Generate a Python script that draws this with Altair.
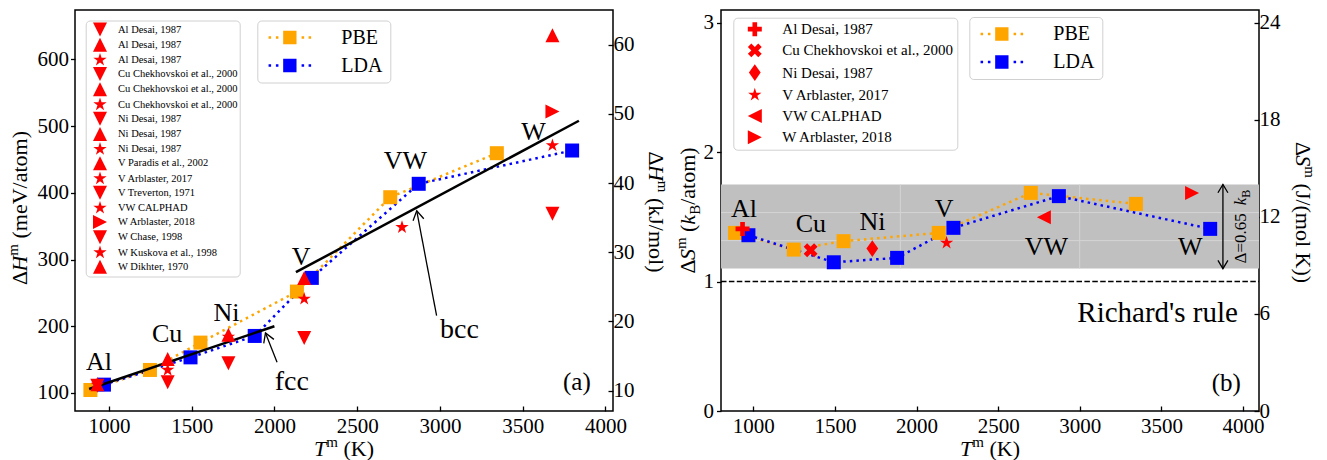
import math
import altair as alt
import pandas as pd

FONT = "Liberation Serif"
FONT_LIST = "Liberation Serif, Times New Roman, serif"

# ---------------- computed melting properties (PBE / LDA) ----------------
elements = ["Al", "Cu", "Ni", "V", "VW", "W"]
pbe_T = [888, 1248, 1553, 2136, 2700, 3344]
lda_T = [970, 1493, 1881, 2226, 2872, 3799]
pbe_H = [104.5, 134.5, 175.5, 252.0, 393.4, 459.4]   # meV/atom
lda_H = [112.5, 153.4, 185.5, 272.5, 413.5, 463.4]
pbe_S = [1.376, 1.247, 1.312, 1.376, 1.685, 1.600]   # k_B/atom
lda_S = [1.358, 1.149, 1.183, 1.415, 1.660, 1.407]

# ---------------- reference enthalpies, panel (a) ----------------
exp_h_source = [
    "Al Desai, 1987", "Al Desai, 1987", "Al Desai, 1987",
    "Cu Chekhovskoi et al., 2000", "Cu Chekhovskoi et al., 2000", "Cu Chekhovskoi et al., 2000",
    "Ni Desai, 1987", "Ni Desai, 1987", "Ni Desai, 1987",
    "V Paradis et al., 2002", "V Arblaster, 2017", "V Treverton, 1971",
    "VW CALPHAD",
    "W Arblaster, 2018", "W Chase, 1998", "W Kuskova et al., 1998", "W Dikhter, 1970",
]
exp_h_marker = [
    "tri_down", "tri_up", "star",
    "tri_down", "tri_up", "star",
    "tri_down", "tri_up", "star",
    "tri_up", "star", "tri_down",
    "star",
    "tri_right", "tri_down", "star", "tri_up",
]
exp_h_T = [930, 930, 930, 1355, 1355, 1355, 1722, 1722, 1722,
           2180, 2180, 2180, 2771, 3680, 3680, 3680, 3680]
exp_h_H = [111, 113, 112, 116, 151, 134.5, 144.4, 187.4, 184,
           272.5, 241, 182.5, 348.4, 522, 368.5, 471, 636]

# ---------------- reference entropies, panel (b) ----------------
exp_s_source = ["Al Desai, 1987", "Cu Chekhovskoi et al., 2000", "Ni Desai, 1987",
                "V Arblaster, 2017", "VW CALPHAD", "W Arblaster, 2018"]
exp_s_marker = ["plus", "x", "thin_diamond", "star", "tri_left", "tri_right"]
exp_s_T = [934, 1351, 1729, 2184, 2780, 3688]
exp_s_S = [1.407, 1.242, 1.255, 1.299, 1.497, 1.685]

# ---------------- linear guides for fcc / bcc ----------------
fit_group = ["fcc", "fcc", "bcc", "bcc"]
fit_T = [880, 2000, 2130, 3840]
fit_H = [106, 200, 281, 508]

# annotation arrows: tail -> head, and the label at the tail
arrow_name = ["fcc", "bcc"]
arrow_tail_T = [2016, 2980]
arrow_tail_H = [146, 216]
arrow_head_T = [1946, 2860]
arrow_head_H = [190, 373]
arrow_text_T = [2105, 3118]
arrow_text_H = [116, 194]

# element labels
lab_a_T = [940, 1352, 1711, 2161, 2791, 3566]
lab_a_H = [146, 188.5, 220, 304, 448, 491]
lab_b_T = [943, 1353, 1730, 2169, 2796, 3677]
lab_b_S = [1.562, 1.441, 1.459, 1.557, 1.265, 1.265]

# spread band of the entropy and Richard's rule
band_lo, band_hi = 1.10, 1.75
richard_S = 1.0

# tick values
t_ticks = [1000, 1500, 2000, 2500, 3000, 3500, 4000]
h_ticks = [100, 200, 300, 400, 500, 600]
kj_ticks = [10, 20, 30, 40, 50, 60]
s_ticks = [0, 1, 2, 3]
j_ticks = [0, 6, 12, 18, 24]

# ---------------- geometry / scales ----------------
W, H = 538, 401
T_DOM_A = [795, 4046]
H_DOM = [73, 674]
KJ_DOM = [H_DOM[0] * 0.09648, H_DOM[1] * 0.09648]
T_DOM_B = [802, 4098]
S_DOM = [0, 3.098]
J_DOM = [0, 24.8]

MS = 196  # marker area
AX_STYLE = dict(labelFont=FONT_LIST, labelFontSize=21, labelColor="black", format="d",
                tickColor="black", tickWidth=1.3, grid=False, domain=False, title=None)

# ---------------- rich text helpers (italic symbols, super/subscripts) ----------------
_REG = {" ": 250, "(": 333, ")": 333, "/": 278, "=": 564, ".": 250, "Δ": 612,
        "A": 722, "B": 667, "H": 722, "J": 389, "K": 722, "S": 556, "T": 611, "V": 722,
        "a": 444, "e": 444, "k": 500, "l": 278, "m": 778, "o": 500, "t": 278}
_ITA = {"H": 722, "S": 500, "T": 556, "k": 444}


def advance(s, fs, italic):
    return sum((_ITA if italic else _REG).get(c, 500) for c in s) * fs / 1000.0


ONE = pd.DataFrame({"v": [0]})


def rich_text(pieces, x, y, angle, data=ONE):
    """pieces: (text, size, italic, baseline shift); centred on the anchor along the reading direction"""
    total = sum(advance(t, fs, it) for t, fs, it, _ in pieces)
    pos = -total / 2.0
    layers = []
    for t, fs, it, shift in pieces:
        lead = len(t) - len(t.lstrip(" "))
        pos += advance(" " * lead, fs, it)
        body = t.strip(" ")
        layers.append(alt.Chart(data).mark_text(
            text=body, font=FONT, fontSize=fs, fontStyle="italic" if it else "normal",
            color="black", angle=angle, align="left", baseline="alphabetic",
            dx=pos, dy=shift).encode(x=x, y=y))
        pos += advance(body, fs, it)
    return layers


def poly(pts):
    return "M" + "L".join(f"{x:.4f},{y:.4f}" for x, y in pts) + "Z"


def star_path():
    pts = []
    for k in range(5):
        a = math.radians(72 * k)
        pts.append((math.sin(a), -math.cos(a)))
        b = math.radians(72 * k + 36)
        pts.append((0.382 * math.sin(b), -0.382 * math.cos(b)))
    return poly(pts)


_plus = [(-1 / 3, -1), (1 / 3, -1), (1 / 3, -1 / 3), (1, -1 / 3), (1, 1 / 3), (1 / 3, 1 / 3),
         (1 / 3, 1), (-1 / 3, 1), (-1 / 3, 1 / 3), (-1, 1 / 3), (-1, -1 / 3), (-1 / 3, -1 / 3)]
_c45 = math.cos(math.radians(45))
SHAPES = {
    "tri_up": poly([(0, -1), (1, 1), (-1, 1)]),
    "tri_down": poly([(0, 1), (1, -1), (-1, -1)]),
    "tri_right": poly([(1, 0), (-1, -1), (-1, 1)]),
    "tri_left": poly([(-1, 0), (1, -1), (1, 1)]),
    "star": star_path(),
    "plus": poly(_plus),
    "x": poly([((x - y) * _c45 * 1.05, (x + y) * _c45 * 1.05) for x, y in _plus]),
    "thin_diamond": poly([(0, -1.2), (0.84, 0), (0, 1.2), (-0.84, 0)]),
}
OPEN_HEAD = "M-0.6,1L0,0L0.6,1"


def handle_path(shift):
    # square marker on a dotted line, used as legend symbol
    def box(cx, d):
        return (f"M{cx - d + shift:.3f},{-d:.3f}L{cx + d + shift:.3f},{-d:.3f}"
                f"L{cx + d + shift:.3f},{d:.3f}L{cx - d + shift:.3f},{d:.3f}Z")
    parts = [box(0, 1.0)]
    for cx in (-3.0, -1.9, 1.95, 3.0):
        parts.append(box(cx, 0.19))
    return "".join(parts)


HANDLE = handle_path(2.33)

dft = pd.DataFrame({
    "method": ["PBE"] * 6 + ["LDA"] * 6,
    "element": elements * 2,
    "T": pbe_T + lda_T,
    "H": pbe_H + lda_H,
    "S": pbe_S + lda_S,
})
method_scale = alt.Scale(domain=["PBE", "LDA"], range=["#FFA500", "#0000FF"])


def method_legend(lx, ly):
    return alt.Legend(
        orient="none", legendX=lx, legendY=ly, title=None,
        symbolType=HANDLE, symbolSize=178, symbolStrokeWidth=0,
        labelFont=FONT, labelFontSize=20, labelColor="black",
        padding=7, symbolOffset=0, labelOffset=57, rowPadding=8,
        strokeColor="#d0d0d0", fillColor="rgba(255,255,255,0.85)", cornerRadius=4,
    )


def marker_legend(lx, ly, fs, pad, so, lo, rp, sw):
    return alt.Legend(
        orient="none", legendX=lx, legendY=ly, title=None,
        labelExpr="split(datum.label, '|')[1]",
        symbolSize=MS, symbolFillColor="red", symbolStrokeColor="red", symbolStrokeWidth=sw,
        labelFont=FONT, labelFontSize=fs, labelColor="black", labelLimit=400,
        padding=pad, symbolOffset=so, labelOffset=lo, rowPadding=rp,
        strokeColor="#d0d0d0", fillColor="rgba(255,255,255,0.85)", cornerRadius=4,
    )


def x_axis():
    return alt.Axis(values=t_ticks, tickSize={"expr": "-5"}, labelPadding=9, **AX_STYLE)


def head_angle(t0, v0, t1, v1, pxt, pxv):
    dx = (t1 - t0) * pxt
    dy = -(v1 - v0) * pxv
    return math.degrees(math.atan2(dx, -dy)) % 360


def axis_titles(left_pieces, right_pieces, left_x, right_x, left_cy, right_cy):
    xt = rich_text([("T", 22, True, 0), ("m", 15, False, -9), (" (K)", 22, False, 0)],
                   alt.value(W / 2), alt.value(446), 0)
    lt = rich_text(left_pieces, alt.value(left_x), alt.value(left_cy), 270)
    rt = rich_text(right_pieces, alt.value(right_x), alt.value(right_cy), 90)
    return xt + lt + rt


# ======================= panel (a) =======================
xa = alt.X("T:Q", scale=alt.Scale(domain=T_DOM_A, nice=False, zero=False), axis=x_axis())
ya = alt.Y("H:Q", scale=alt.Scale(domain=H_DOM, nice=False, zero=False),
           axis=alt.Axis(values=h_ticks, tickSize=4.5, labelPadding=2, **AX_STYLE))

base_a = alt.Chart(dft)
pbe_line_a = base_a.transform_filter(alt.datum.method == "PBE").mark_line(
    color="#FFA500", strokeDash=[2.5, 4.1], strokeWidth=2.5).encode(x=xa, y=ya, order="T:Q")
lda_line_a = base_a.transform_filter(alt.datum.method == "LDA").mark_line(
    color="#0000FF", strokeDash=[2.5, 4.1], strokeWidth=2.5).encode(x=xa, y=ya, order="T:Q")
sq_a = base_a.mark_point(shape="square", filled=True, size=MS, opacity=1).encode(
    x=xa, y=ya, color=alt.Color("method:N", scale=method_scale, legend=method_legend(182.3, 10.5)))

fit_df = pd.DataFrame({"group": fit_group, "T": fit_T, "H": fit_H})
fit_a = alt.Chart(fit_df).mark_line(color="black", strokeWidth=2.5).encode(x=xa, y=ya, detail="group:N")

exp_h = pd.DataFrame({
    "key": [f"{i:02d}|{s}" for i, s in enumerate(exp_h_source)],
    "T": exp_h_T, "H": exp_h_H,
})
red_a = alt.Chart(exp_h).mark_point(filled=True, color="red", size=MS, opacity=1, strokeWidth=0.5).encode(
    x=xa, y=ya,
    shape=alt.Shape("key:N", scale=alt.Scale(domain=list(exp_h["key"]),
                                             range=[SHAPES[m] for m in exp_h_marker]),
                    legend=marker_legend(10.7, 10.5, 10.5, 2, 5.3, 11, 1.2, 0)),
)

pxt_a = W / (T_DOM_A[1] - T_DOM_A[0])
pxh_a = H / (H_DOM[1] - H_DOM[0])
arr_df = pd.DataFrame({
    "name": arrow_name, "T": arrow_tail_T, "H": arrow_tail_H,
    "T2": arrow_head_T, "H2": arrow_head_H,
    "angle": [head_angle(a, b, c, d, pxt_a, pxh_a) for a, b, c, d in
              zip(arrow_tail_T, arrow_tail_H, arrow_head_T, arrow_head_H)],
    "tx": arrow_text_T, "ty": arrow_text_H,
})
arr_shaft = alt.Chart(arr_df).mark_rule(color="black", strokeWidth=1.3).encode(
    x=xa, y=ya, x2="T2:Q", y2="H2:Q")
arr_head = alt.Chart(arr_df).mark_point(shape=OPEN_HEAD, filled=False, color="black", size=330,
                                        strokeWidth=1.3, opacity=1).encode(
    x=alt.X("T2:Q"), y=alt.Y("H2:Q"), angle=alt.Angle("angle:Q", scale=None))
arr_text = alt.Chart(arr_df).mark_text(font=FONT, fontSize=28, color="black", baseline="middle").encode(
    x=alt.X("tx:Q"), y=alt.Y("ty:Q"), text="name:N")

lab_a = alt.Chart(pd.DataFrame({"T": lab_a_T, "H": lab_a_H, "label": elements})).mark_text(
    font=FONT, fontSize=26, color="black", baseline="middle").encode(x=xa, y=ya, text="label:N")
tag_a = alt.Chart(pd.DataFrame({"T": [3828], "H": [116], "label": ["(a)"]})).mark_text(
    font=FONT, fontSize=25, color="black", baseline="middle").encode(x=xa, y=ya, text="label:N")

titles_a = axis_titles(
    [("Δ", 22, False, 0), ("H", 22, True, 0), ("m", 15, False, -9), (" (meV/atom)", 22, False, 0)],
    [("Δ", 22, False, 0), ("H", 22, True, 0), ("m", 15, False, -9), (" (kJ/mol)", 22, False, 0)],
    -48, 573.5, 198, 202)

main_a = alt.layer(pbe_line_a, lda_line_a, sq_a, fit_a, red_a, arr_shaft, arr_head, arr_text,
                   lab_a, tag_a, *titles_a)

kj_axis = alt.Chart(pd.DataFrame({"v": kj_ticks})).mark_point(opacity=0).encode(
    y=alt.Y("v:Q", scale=alt.Scale(domain=KJ_DOM, nice=False, zero=False),
            axis=alt.Axis(orient="right", values=kj_ticks, tickSize={"expr": "-5"},
                          labelPadding=5, **AX_STYLE)))

panel_a = alt.layer(main_a, kj_axis).resolve_scale(y="independent").properties(width=W, height=H)

# ======================= panel (b) =======================
xb = alt.X("T:Q", scale=alt.Scale(domain=T_DOM_B, nice=False, zero=False), axis=x_axis())
yb = alt.Y("S:Q", scale=alt.Scale(domain=S_DOM, nice=False, zero=False),
           axis=alt.Axis(values=s_ticks, tickSize=4.5, labelPadding=3, **AX_STYLE))

band = alt.Chart(pd.DataFrame({"S": [band_lo], "S2": [band_hi]})).mark_rect(color="#c0c0c0").encode(
    x=alt.value(0), x2=alt.value(W), y=yb, y2="S2:Q")

span = T_DOM_B[1] - T_DOM_B[0]
grid_v = alt.Chart(pd.DataFrame({"T": [T_DOM_B[0] + span / 3, T_DOM_B[0] + 2 * span / 3],
                                 "S": [band_lo] * 2, "S2": [band_hi] * 2})).mark_rule(
    color="#d4d4d4", strokeWidth=1).encode(x=xb, y=yb, y2="S2:Q")
grid_h = alt.Chart(pd.DataFrame({"S": [band_lo + (band_hi - band_lo) / 3,
                                       band_lo + 2 * (band_hi - band_lo) / 3]})).mark_rule(
    color="#d4d4d4", strokeWidth=1).encode(x=alt.value(0), x2=alt.value(W), y=yb)

richard = alt.Chart(pd.DataFrame({"S": [richard_S]})).mark_rule(
    color="black", strokeWidth=1.5, strokeDash=[5.5, 2.4]).encode(x=alt.value(0), x2=alt.value(W), y=yb)

base_b = alt.Chart(dft)
pbe_line_b = base_b.transform_filter(alt.datum.method == "PBE").mark_line(
    color="#FFA500", strokeDash=[2.5, 4.1], strokeWidth=2.5).encode(x=xb, y=yb, order="T:Q")
lda_line_b = base_b.transform_filter(alt.datum.method == "LDA").mark_line(
    color="#0000FF", strokeDash=[2.5, 4.1], strokeWidth=2.5).encode(x=xb, y=yb, order="T:Q")
sq_b = base_b.mark_point(shape="square", filled=True, size=MS, opacity=1).encode(
    x=xb, y=yb, color=alt.Color("method:N", scale=method_scale, legend=method_legend(248.3, 7)))

exp_s = pd.DataFrame({
    "key": [f"{i:02d}|{s}" for i, s in enumerate(exp_s_source)],
    "T": exp_s_T, "S": exp_s_S,
})
red_b = alt.Chart(exp_s).mark_point(filled=True, color="red", size=MS, opacity=1, strokeWidth=0.5).encode(
    x=xb, y=yb,
    shape=alt.Shape("key:N", scale=alt.Scale(domain=list(exp_s["key"]),
                                             range=[SHAPES[m] for m in exp_s_marker]),
                    legend=marker_legend(12.3, 7.7, 15, 4, 10, 20, 4.2, 0.5)),
)

lab_b = alt.Chart(pd.DataFrame({"T": lab_b_T, "S": lab_b_S, "label": elements})).mark_text(
    font=FONT, fontSize=26, color="black", baseline="middle").encode(x=xb, y=yb, text="label:N")
rich_rule = alt.Chart(pd.DataFrame({"T": [3969], "S": [0.76], "label": ["Richard's rule"]})).mark_text(
    font=FONT, fontSize=29, color="black", baseline="middle", align="right").encode(x=xb, y=yb, text="label:N")
tag_b = alt.Chart(pd.DataFrame({"T": [3898], "S": [0.216], "label": ["(b)"]})).mark_text(
    font=FONT, fontSize=25, color="black", baseline="middle").encode(x=xb, y=yb, text="label:N")

# double arrow spanning the band
darrow_T = 3877
dbl = pd.DataFrame({"T": [darrow_T], "S": [band_lo], "S2": [band_hi]})
dbl_shaft = alt.Chart(dbl).mark_rule(color="black", strokeWidth=1.3).encode(x=xb, y=yb, y2="S2:Q")
dbl_heads = alt.Chart(pd.DataFrame({"T": [darrow_T, darrow_T], "S": [band_hi, band_lo],
                                    "angle": [0, 180]})).mark_point(
    shape=OPEN_HEAD, filled=False, color="black", size=276, strokeWidth=1.3, opacity=1).encode(
    x=xb, y=yb, angle=alt.Angle("angle:Q", scale=None))
delta_pos = pd.DataFrame({"T": [4018], "S": [(band_lo + band_hi) / 2]})
delta_text = rich_text([("Δ=0.65", 17, False, 0), (" k", 17, True, 0), ("B", 12, False, 4)],
                       alt.X("T:Q"), alt.Y("S:Q"), 270, data=delta_pos)

titles_b = axis_titles(
    [("Δ", 22, False, 0), ("S", 22, True, 0), ("m", 15, False, -9), (" (", 22, False, 0),
     ("k", 22, True, 0), ("B", 15, False, 4.5), ("/atom)", 22, False, 0)],
    [("Δ", 22, False, 0), ("S", 22, True, 0), ("m", 15, False, -9), (" (J/(mol K))", 22, False, 0)],
    -26, 575.3, 200.5, 202.5)

main_b = alt.layer(band, grid_v, grid_h, richard, pbe_line_b, lda_line_b, sq_b, red_b,
                   lab_b, rich_rule, tag_b, dbl_shaft, dbl_heads, *delta_text, *titles_b)

j_axis = alt.Chart(pd.DataFrame({"v": j_ticks})).mark_point(opacity=0).encode(
    y=alt.Y("v:Q", scale=alt.Scale(domain=J_DOM, nice=False, zero=False),
            axis=alt.Axis(orient="right", values=j_ticks, tickSize={"expr": "-5"},
                          labelPadding=5, **AX_STYLE)))

panel_b = alt.layer(main_b, j_axis).resolve_scale(y="independent").properties(width=W, height=H)

chart = (
    alt.hconcat(panel_a, panel_b, spacing=108, bounds="flush")
    .resolve_scale(x="independent", y="independent", color="independent", shape="independent")
    .resolve_legend(color="independent", shape="independent")
    .properties(padding={"left": 5, "top": 9, "right": 5, "bottom": 2}, background="white")
    .configure(font=FONT, style={"guide-label": {"font": FONT_LIST}, "guide-title": {"font": FONT_LIST}})
    .configure_view(stroke="black", strokeWidth=1.5)
    .configure_axis(labelFont=FONT_LIST, labelFontSize=21, labelColor="black",
                    tickColor="black", tickWidth=1.3, grid=False, domain=False)
    .configure_legend(labelFont=FONT)
)

chart.save("out.html", embed_options={"renderer": "svg", "actions": False})
